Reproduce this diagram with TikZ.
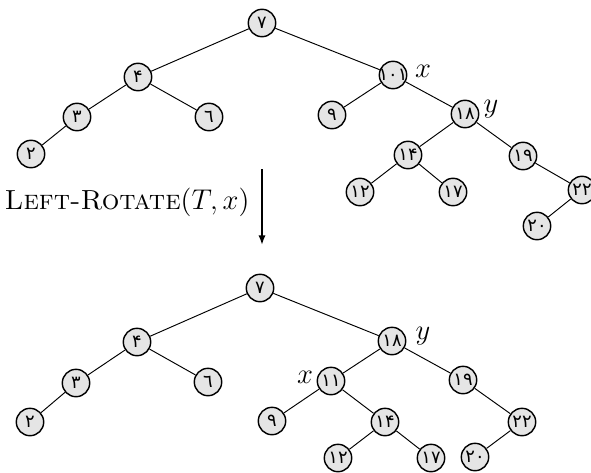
\documentclass[tikz,border=0pt]{standalone}
\usepackage{fontspec}
\newfontfamily\fadigits[Script=Arabic]{DejaVu Sans}
\usetikzlibrary{arrows.meta}
\newcommand{\key}[1]{\makebox[0pt]{#1}}
\begin{document}
\begin{tikzpicture} [x = 0.42pt, y = -0.42pt,
	vertex/.style = {circle, draw, line width = 0.6pt, fill = black!10, minimum size = 11.5pt, inner sep = 0pt, font = \fadigits\fontsize{7.5}{9}\selectfont},
	mark label/.style = {font = \fontsize{11.6}{14}\selectfont}]
	\useasboundingbox (0,0) rectangle (591,472);
	% before the rotation
	\node [vertex] (a7) at (262,23) {\key{۷}};
	\node [vertex] (a4) at (138,77) {\key{۴}};
	\node [vertex] (a11) at (393,75) {\key{۱۰۱}};
	\node [vertex] (a3) at (77,117) {\key{۳}};
	\node [vertex] (a6) at (209,117) {\key{٦}};
	\node [vertex] (a2) at (31,154) {\key{۲}};
	\node [vertex] (a9) at (332,115) {\key{۹}};
	\node [vertex] (a18) at (465,114) {\key{۱۸}};
	\node [vertex] (a14) at (408,155) {\key{۱۴}};
	\node [vertex] (a19) at (523,156) {\key{۱۹}};
	\node [vertex] (a12) at (360,192) {\key{۱۲}};
	\node [vertex] (a17) at (453,192) {\key{۱۷}};
	\node [vertex] (a22) at (582,190) {\key{۲۲}};
	\node [vertex] (a20) at (537,226) {\key{۲۰}};
	\node [mark label] (ax) at (423,71) {$x$};
	\node [mark label] (ay) at (491,109) {$y$};
	\draw (a7) -- (a4);
	\draw (a7) -- (a11);
	\draw (a4) -- (a3);
	\draw (a4) -- (a6);
	\draw (a3) -- (a2);
	\draw (a11) -- (a9);
	\draw (a11) -- (a18);
	\draw (a18) -- (a14);
	\draw (a18) -- (a19);
	\draw (a14) -- (a12);
	\draw (a14) -- (a17);
	\draw (a19) -- (a22);
	\draw (a22) -- (a20);
	% the rotation
	\coordinate (rtop) at (262,169);
	\coordinate (rbot) at (262,245);
	\draw [line width = 1.2pt, -{Latex[length=4pt, width=3pt]}] (rtop) -- (rbot);
	\node [mark label, anchor = east] (rname) at (258,202) {\textsc{Left-Rotate}$(T,x)$};
	% after the rotation
	\node [vertex] (b7) at (260,288) {\key{۷}};
	\node [vertex] (b4) at (137,342) {\key{۴}};
	\node [vertex] (b18) at (392,341) {\key{۱۸}};
	\node [vertex] (b3) at (76,383) {\key{۳}};
	\node [vertex] (b6) at (208,382) {\key{٦}};
	\node [vertex] (b2) at (30,422) {\key{۲}};
	\node [vertex] (b11) at (331,381) {\key{۱۱}};
	\node [vertex] (b19) at (463,380) {\key{۱۹}};
	\node [vertex] (b9) at (272,421) {\key{۹}};
	\node [vertex] (b14) at (385,422) {\key{۱۴}};
	\node [vertex] (b22) at (522,422) {\key{۲۲}};
	\node [vertex] (b12) at (338,458) {\key{۱۲}};
	\node [vertex] (b17) at (431,458) {\key{۱۷}};
	\node [vertex] (b20) at (475,457) {\key{۲۰}};
	\node [mark label] (by) at (423,336) {$y$};
	\node [mark label] (bx) at (305,377) {$x$};
	\draw (b7) -- (b4);
	\draw (b7) -- (b18);
	\draw (b4) -- (b3);
	\draw (b4) -- (b6);
	\draw (b3) -- (b2);
	\draw (b18) -- (b11);
	\draw (b18) -- (b19);
	\draw (b11) -- (b9);
	\draw (b11) -- (b14);
	\draw (b14) -- (b12);
	\draw (b14) -- (b17);
	\draw (b19) -- (b22);
	\draw (b22) -- (b20);
\end{tikzpicture}
\end{document}
